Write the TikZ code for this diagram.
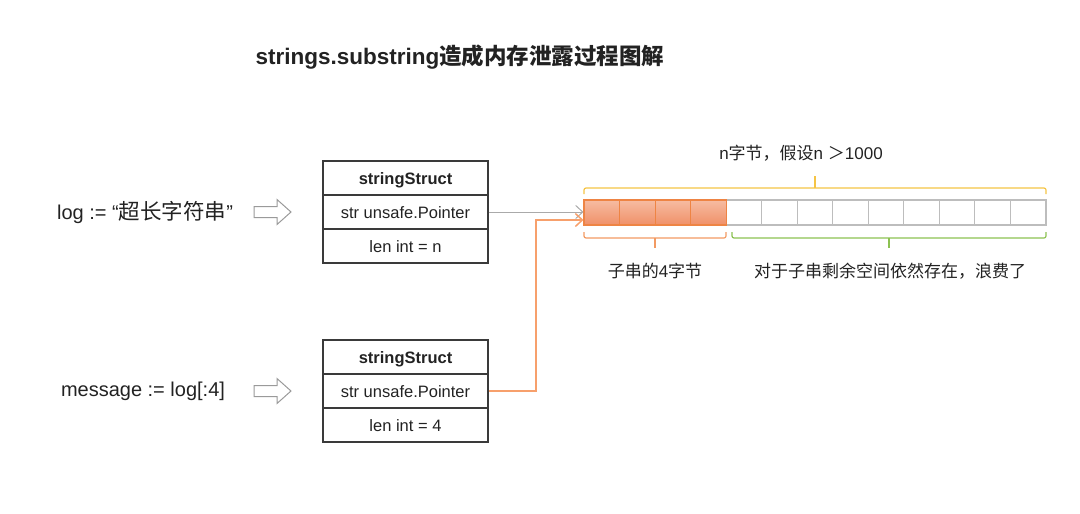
\documentclass[tikz,border=0pt]{standalone}
\usepackage{fontspec}
\setmainfont{Liberation Sans}
\newfontfamily\cjk{Noto Sans CJK SC}
\usetikzlibrary{arrows.meta}
\definecolor{ink}{HTML}{222222}
\definecolor{boxline}{HTML}{3A3A3A}
\definecolor{cellgray}{HTML}{BDBDBD}
\definecolor{orgline}{HTML}{EE8444}
\definecolor{orgtop}{HTML}{F6BCA2}
\definecolor{orgbot}{HTML}{F09068}
\definecolor{ptrorange}{HTML}{F7A06C}
\definecolor{ptrgray}{HTML}{AAAAAA}
\definecolor{braceyellow}{HTML}{F5C445}
\definecolor{braceorange}{HTML}{F29A62}
\definecolor{bracegreen}{HTML}{8CC152}
\definecolor{hollowgray}{HTML}{9A9A9A}
\begin{document}
\begin{tikzpicture}[x=1pt,y=-1pt,
  every node/.style={text=ink, inner sep=0pt},
  row/.style={draw=boxline, line width=1.1pt, rectangle, minimum width=165pt, minimum height=34pt, text height=13pt, text depth=1pt, font=\fontsize{16.5}{20}\selectfont},
  mem/.style={draw=cellgray, line width=1.1pt, fill=white, rectangle, minimum width=35.54pt, minimum height=25pt},
  memsub/.style={draw=orgline, line width=1.1pt, top color=orgtop, bottom color=orgbot, rectangle, minimum width=35.54pt, minimum height=25pt},
  codetext/.style={font=\fontsize{20}{24}\selectfont},
  labeltext/.style={font=\fontsize{17}{20}\selectfont},
  hollow/.style={draw=hollowgray, line width=1pt, line join=miter},
  ptr/.style={line width=1pt, -{Straight Barb[length=7pt,width=13pt]}},
  brace/.style={line width=1.2pt, rounded corners=2pt}
]
\useasboundingbox (0,0) rectangle (1080,514);

% title
\node (title) at (460,57) {\fontsize{22.5}{27}\selectfont\bfseries strings.substring{\cjk\bfseries 造成内存泄露过程图解}};

% left code texts
\node[codetext] (code1) at (145,212) {log := “{\cjk\fontsize{21.5}{24}\selectfont 超长字符串}”};
\node[codetext] (code2) at (143,391) {message := log[:4]};

% hollow arrows
\coordinate (ha1) at (254,212);
\coordinate (ha2) at (254,391);
\foreach \a in {ha1,ha2}{
  \draw[hollow] (\a) ++(0,-5.5) -- ++(23,0) -- ++(0,-7) -- ++(14,12.5) -- ++(-14,12.5) -- ++(0,-7) -- ++(-23,0) -- cycle;
}

% struct 1
\node[row, font=\fontsize{16.5}{20}\selectfont\bfseries] (s1h) at (405.5,178) {stringStruct};
\node[row] (s1p) at (405.5,212) {str unsafe.Pointer};
\node[row] (s1l) at (405.5,246) {len int = n};

% struct 2
\node[row, font=\fontsize{16.5}{20}\selectfont\bfseries] (s2h) at (405.5,357) {stringStruct};
\node[row] (s2p) at (405.5,391) {str unsafe.Pointer};
\node[row] (s2l) at (405.5,425) {len int = 4};

% memory cells
\foreach \i in {5,...,13}{
  \node[mem] (c\i) at ({584+35.54*(\i-0.5)},212.5) {};
}
\foreach \i in {1,...,4}{
  \node[memsub] (c\i) at ({584+35.54*(\i-0.5)},212.5) {};
}

% braces
\draw[brace, draw=braceyellow] (584,194) -- (584,188) -- (1046,188) -- (1046,194);
\draw[brace, draw=braceyellow] (815,188) -- (815,176);
\draw[brace, draw=braceorange] (584,232) -- (584,238) -- (726,238) -- (726,232);
\draw[brace, draw=braceorange] (655,238) -- (655,248);
\draw[brace, draw=bracegreen] (732,232) -- (732,238) -- (1046,238) -- (1046,232);
\draw[brace, draw=bracegreen] (889,238) -- (889,248);

% labels
\node[labeltext] (ltop) at (801,153) {n{\cjk 字节，假设}n {\cjk ＞}1000};
\node[labeltext] (lsub) at (655,271) {{\cjk 子串的}4{\cjk 字节}};
\node[labeltext] (lrest) at (890,271) {\cjk 对于子串剩余空间依然存在，浪费了};

% pointers
\draw[ptr, draw=ptrgray] (s1p.east) -- (s1p.east -| c1.west);
\draw[ptr, draw=ptrorange, line width=1.5pt] (s2p.east) -- (536,391) -- (536,220) -- ([yshift=-7.5pt]c1.west);
\end{tikzpicture}
\end{document}
